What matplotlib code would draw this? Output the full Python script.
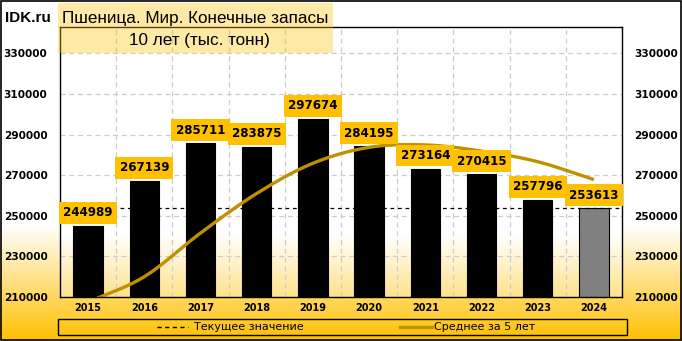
import numpy as np
import matplotlib
matplotlib.use("Agg")
import matplotlib.pyplot as plt
from matplotlib.lines import Line2D
from matplotlib.patches import Rectangle
from matplotlib.colors import to_rgb

years = ["2015", "2016", "2017", "2018", "2019", "2020", "2021", "2022", "2023", "2024"]
values = [244989, 267139, 285711, 283875, 297674, 284195, 273164, 270415, 257796, 253613]
avg5 = [207500, 220000, 241500, 261000, 275878, 283719, 284924, 281865, 276649, 267837]
current = 253613
yticks = [210000, 230000, 250000, 270000, 290000, 310000, 330000]
title1 = "Пшеница. Мир. Конечные запасы"
title2 = "10 лет (тыс. тонн)"
legend_labels = ["Текущее значение", "Среднее за 5 лет"]

W, H = 682, 341
fig = plt.figure(figsize=(W / 100, H / 100), dpi=100)

def fx(px):
    return px / W

def fy(py):
    return 1 - py / H

# figure background gradient
bg = fig.add_axes([0, 0, 1, 1], zorder=-10)
bg.set_axis_off()
n = 400
ys = np.linspace(0, H, n)
t = np.clip((ys - 225) / (H - 225), 0, 1)
c0 = np.array(to_rgb("#FFFFFF"))
c1 = np.array(to_rgb("#FFC000"))
grad = c0[None, :] * (1 - t[:, None]) + c1[None, :] * t[:, None]
bg.imshow(grad[:, None, :], aspect="auto", extent=[0, 1, 0, 1], origin="upper")
bg.set_xlim(0, 1)
bg.set_ylim(0, 1)

# main axes
L, R, T, B = 60, 622, 27, 297
ax = fig.add_axes([fx(L), fy(B), (R - L) / W, (B - T) / H])
ax.set_facecolor("none")
ymin, ymax = 210000, 343000
x = np.arange(len(years))

# plot area gradient
pys = np.linspace(T, B, n)
pt = np.clip((pys - 235) / (B - 235), 0, 1)
pc1 = np.array(to_rgb("#FFE28A"))
pgrad = c0[None, :] * (1 - pt[:, None]) + pc1[None, :] * pt[:, None]
ax.imshow(pgrad[:, None, :], aspect="auto", extent=[0, 1, 0, 1], origin="upper",
          transform=ax.transAxes, zorder=0)

# gridlines
for yv in yticks:
    ax.axhline(yv, color="#CCCCCC", lw=0.9, ls=(0, (4, 3)), zorder=1)
for xv in x[:-1] + 0.5:
    ax.axvline(xv, color="#CCCCCC", lw=0.9, ls=(0, (4, 3)), zorder=1)

colors = ["black"] * (len(years) - 1) + ["#808080"]
ax.bar(x, values, width=0.52, color=colors, edgecolor="black", linewidth=0.8, zorder=3)

ax.axhline(current, color="black", lw=0.9, ls=(0, (3, 3)), zorder=4)

# smooth (Catmull-Rom) curve for 5-year average
def catmull(xp, yp, steps=30):
    xp = np.asarray(xp, float); yp = np.asarray(yp, float)
    P = np.column_stack([xp, yp])
    P = np.vstack([2 * P[0] - P[1], P, 2 * P[-1] - P[-2]])
    out = []
    for i in range(1, len(P) - 2):
        p0, p1, p2, p3 = P[i - 1], P[i], P[i + 1], P[i + 2]
        tt = np.linspace(0, 1, steps, endpoint=(i == len(P) - 3))[:, None]
        pts = 0.5 * ((2 * p1) + (-p0 + p2) * tt + (2 * p0 - 5 * p1 + 4 * p2 - p3) * tt ** 2
                     + (-p0 + 3 * p1 - 3 * p2 + p3) * tt ** 3)
        out.append(pts)
    out = np.vstack(out)
    return out[:, 0], out[:, 1]

cx, cy = catmull(x, avg5)
ax.plot(cx, cy, color="#BF9000", lw=2.4, zorder=5, solid_capstyle="butt")

# data labels
for xi, v in zip(x, values):
    ax.annotate(f"{v}", (xi, v), xytext=(0, 9.5), textcoords="offset points",
                ha="center", va="center", fontsize=8.6, fontweight="bold", color="black",
                bbox=dict(boxstyle="square,pad=0.36", fc="#FFC000", ec="none"), zorder=7)

ax.set_xlim(-0.5, len(years) - 0.5)
ax.set_ylim(ymin, ymax)
ax.set_xticks(x)
ax.set_xticklabels(years, fontsize=7, fontweight="bold")
ax.set_yticks(yticks)
ax.set_yticklabels([str(v) for v in yticks], fontsize=7.6, fontweight="bold")
ax.tick_params(axis="both", length=0)
ax.tick_params(axis="x", pad=4)
ax.tick_params(axis="y", pad=9, labelright=True, labelleft=True)
for s in ax.spines.values():
    s.set_color("black")
    s.set_linewidth(1)
    s.set_zorder(6)

# title box (semi-transparent)
fig.patches.append(Rectangle((fx(58), fy(53)), (333 - 58) / W, 50 / H, transform=fig.transFigure,
                             fc="#FFC000", alpha=0.35, ec="none", zorder=8))
fig.text(fx(195), fy(18), title1, ha="center", va="center", fontsize=12.3, family="Liberation Sans", zorder=9)
fig.text(fx(199), fy(40), title2, ha="center", va="center", fontsize=12.3, family="Liberation Sans", zorder=9)
fig.text(fx(5), fy(18), "IDK.ru", ha="left", va="center", fontsize=11, fontweight="bold",
         family="Liberation Sans", zorder=9)

# legend box
fig.patches.append(Rectangle((fx(58), fy(335)), (627 - 58) / W, 16 / H, transform=fig.transFigure,
                             fc="none", ec="black", lw=1, zorder=8))
ly = fy(327)
fig.lines.append(Line2D([fx(157), fx(188)], [ly, ly], transform=fig.transFigure, color="black",
                        lw=1, ls=(0, (3, 2.5)), zorder=9))
fig.text(fx(194), ly, legend_labels[0], ha="left", va="center", fontsize=8, zorder=9)
fig.lines.append(Line2D([fx(400), fx(432)], [ly, ly], transform=fig.transFigure, color="#BF9000",
                        lw=2.4, zorder=9))
fig.text(fx(434), ly, legend_labels[1], ha="left", va="center", fontsize=8, zorder=9)

# outer border
fig.patches.append(Rectangle((0.0015, 0.003), 0.997, 0.994, transform=fig.transFigure,
                             fc="none", ec="black", lw=1.2, zorder=10))

fig.savefig("out.png", dpi=100)
